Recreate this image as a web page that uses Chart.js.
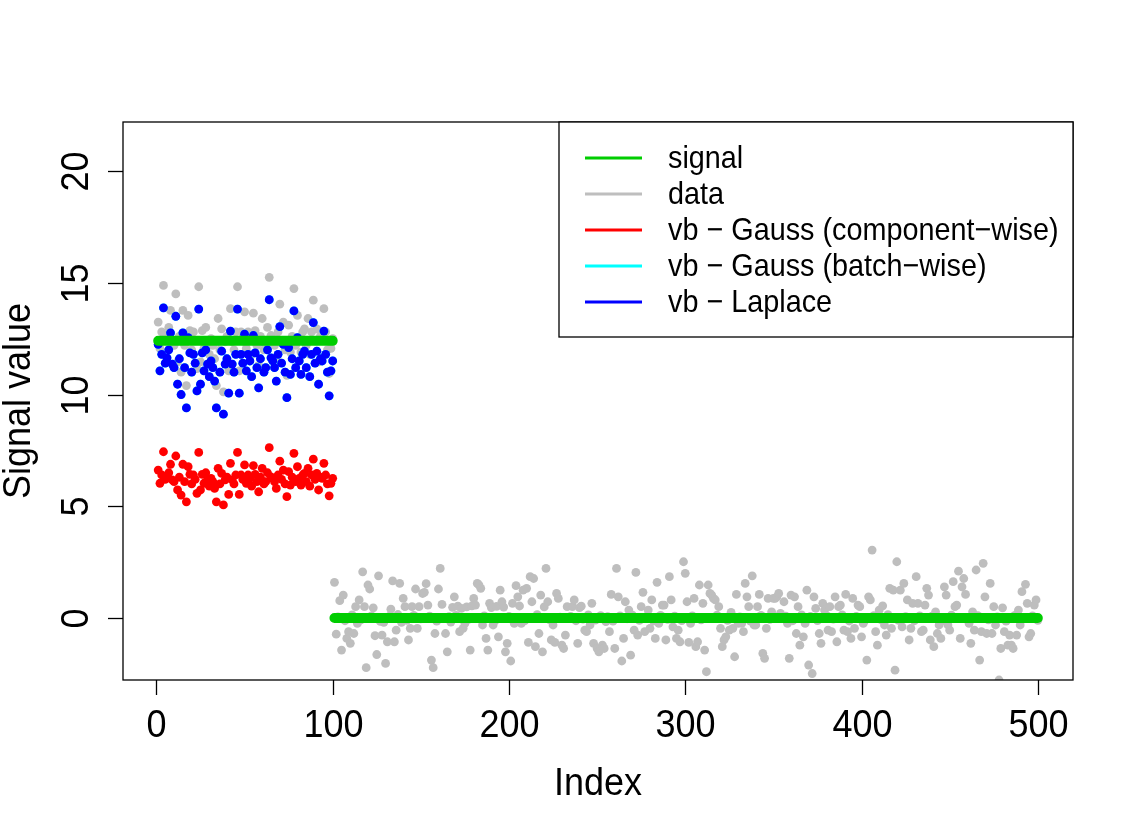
<!DOCTYPE html>
<html>
<head>
<meta charset="utf-8">
<script src="https://cdn.jsdelivr.net/npm/chart.js@4.4.1/dist/chart.umd.min.js"></script>
<style>
  html, body { margin: 0; padding: 0; background: #fff; }
  #wrap { width: 1136px; height: 834px; position: relative; }
</style>
</head>
<body>
<div id="wrap"><canvas id="myChart"></canvas></div>
<script>
// axis ticks
var xTicks = [0, 100, 200, 300, 400, 500];
var yTicks = [0, 5, 10, 15, 20];

// true signal, piecewise constant
var signalStart = [1, 101];
var signalEnd = [100, 500];
var signalLevel = [12.4, 0];

// observed data, index 1..100
var dataFirst = [
  13.24, 12.06, 12.80, 14.88, 12.40, 12.64, 13.00, 13.76, 12.36, 12.20,
  14.50, 11.46, 12.60, 11.00, 13.76, 12.20, 10.40, 13.54, 12.86, 12.00,
  12.80, 12.40, 11.16, 14.82, 11.46, 12.86, 12.06, 13.00, 12.36, 11.80,
  12.50, 12.20, 11.60, 10.40, 13.40, 12.00, 12.94, 10.12, 12.36, 12.60,
  11.06, 13.84, 12.36, 12.00, 12.80, 14.82, 11.06, 12.80, 12.40, 13.70,
  12.06, 12.80, 12.50, 11.80, 13.64, 12.86, 12.20, 11.30, 12.60, 13.40,
  12.00, 12.20, 13.00, 15.24, 12.64, 12.50, 12.20, 11.60, 12.80, 14.04,
  12.40, 13.24, 12.00, 10.86, 13.10, 11.90, 12.60, 14.74, 12.20, 13.54,
  12.50, 11.90, 12.80, 12.94, 12.20, 13.40, 11.80, 12.80, 14.22, 12.40,
  12.94, 11.46, 12.60, 12.50, 13.84, 12.80, 12.00, 10.94, 12.06, 12.50
];

// observed data, index 101..500
var dataRest = [
  1.60, -0.72, 0.05, 0.78, -1.43, 1.03, -0.12, -0.91, -0.61, -1.13,
  0.14, -0.69, 0.51, -0.24, 0.81, -0.08, 2.07, 0.51, -2.22, 1.48,
  1.30, 0.10, 0.46, -0.79, -1.63, 1.89, -0.15, -0.76, -0.19, -2.03,
  -1.06, 0.07, 0.40, 1.66, -1.06, -0.54, 0.16, 1.55, -0.19, 0.88,
  0.51, -0.10, -0.98, -0.46, 0.51, 0.12, 1.30, -0.46, 0.51, -0.04,
  1.10, 1.15, 1.54, 0.58, 0.09, -1.88, -2.22, -0.69, -0.14, 1.30,
  2.22, 0.61, 0.03, -0.69, -1.51,
  0.06, -0.18, 0.48, 0.95, 0.12, 0.53, -0.61, 0.43, -0.46, -0.24,
  0.50, -0.06, -1.43, 0.55, 0.88, 0.58, 1.55, 1.48, 1.33, -0.31,
  0.10, -0.91, -1.43, 0.66, 0.47, -0.31, -0.13, 0.52, -0.84, 1.25,
  0.73, 0.49, -1.51, -1.13, 0.08, -1.92, 0.66, -0.24, 1.45, 0.95,
  0.54, -0.24, 1.25, -0.11, 1.33, -1.09, 1.85, 0.73, 1.77, -1.28,
  0.15, -0.69, 1.03, -1.51, 0.50, 2.22, 0.73, -0.07, -0.98, -0.31,
  -1.09, 1.10, 0.88, 0.04, -1.21, -1.36, -0.76, 0.51,
  -0.02, 0.08, 0.51, 0.81, -0.12, -1.13, 0.47, 0.53, -0.05, -0.54,
  -0.61, 0.14, -0.31, 0.66, -1.13, -0.09, -1.36, -1.51, 0.11, -1.21,
  -1.36, -0.16, 0.06, -0.61, 1.06, -0.14, -1.36, 2.22, 0.95, 0.10,
  -1.92, -0.91, 0.73, -0.03, 0.36, -1.66, 0.13, -0.54, 2.04, -0.76,
  -0.10, 0.51, 1.15, -0.61, 0.07, 0.36, -0.46, 0.81, -0.13, -0.91,
  1.60, -0.24, 0.12, 0.58, 0.58, -0.98, -0.06, 1.85, 0.81, -0.39,
  0.09, -0.91, -0.54, -1.06, -0.11, 2.52, 2.00, 0.73,
  -1.09, -0.24, 0.10, 0.88, -1.28, -1.06, 1.48, -0.08, 0.66, -1.43,
  -2.40, 1.48, 1.10, 1.03, 0.88, 0.81, 0.13, 0.51, -0.46, -1.28,
  -0.98, -0.84, -0.10, -0.54, 0.25, -0.46, -1.73, 1.06, -0.24, 0.05,
  -0.24, -0.61, 1.55, 0.95, 0.51, -0.14, 1.89, -0.31, -0.31, 0.51,
  1.06, 0.12, -1.58, -1.80, -0.46, 0.88, -0.06, 0.28, 0.88, 0.88,
  0.95, 1.10, 0.21, 0.06, 0.73, 0.09, -0.24, -1.80, 1.03, -0.12,
  0.95, -0.69, 0.51, -1.21, 0.14, -0.84, -0.24, 1.25,
  -2.10, 0.07, -2.48, 0.95, 0.43, -0.11, -0.69, -1.13, 0.66, 0.36,
  0.12, -0.54, 0.51, -0.61, -0.05, 0.95, -1.06, 0.51, 0.58, 0.14,
  -0.54, 1.06, -0.61, -0.13, -0.91, 0.88, -0.46, 0.08, 0.58, 0.51,
  -0.84, -0.24, -0.09, -1.88, 0.95, 0.81, 3.04, 0.11, -0.61, -1.21,
  0.36, -0.07, 0.55, -0.31, -0.76, 0.15, 1.33, -0.46, 1.25, -2.33,
  2.52, -0.10, 1.25, -0.39, 1.55, 0.06, 0.81, -0.98, -0.46, 0.66,
  -0.12, 1.85, 0.66, 0.10, -0.61, -0.54, 0.58,
  1.33, 1.03, -0.98, 0.09, -1.28, 0.28, -0.69, -0.31, -0.91, -0.12,
  1.40, 1.03, -0.31, -0.54, 0.13, 1.63, 0.51, 0.58, 2.10, -0.91,
  1.40, 1.77, 1.06, -0.06, -0.24, -1.13, 0.28, -0.54, 2.15, 0.11,
  -1.88, -0.61, 2.45, 0.95, -0.69, -0.08, 1.55, -0.69, 0.51, -0.31,
  0.05, -2.77, -1.36, 0.46, -0.61, -0.14, -1.21, -0.76, -1.21, -1.36,
  0.12, -0.76, 0.36, -0.31, 1.18, -0.04, 1.51, 0.66, -0.84, -0.69,
  0.10, 0.58, 0.81, -0.10
];

// vb - Gauss (component-wise), index 1..100
var vbGaussComp = [
  6.62, 6.03, 6.40, 7.44, 6.20, 6.32, 6.50, 6.88, 6.18, 6.10,
  7.25, 5.73, 6.30, 5.50, 6.88, 6.10, 5.20, 6.77, 6.43, 6.00,
  6.40, 6.20, 5.58, 7.41, 5.73, 6.43, 6.03, 6.50, 6.18, 5.90,
  6.25, 6.10, 5.80, 5.20, 6.70, 6.00, 6.47, 5.06, 6.18, 6.30,
  5.53, 6.92, 6.18, 6.00, 6.40, 7.41, 5.53, 6.40, 6.20, 6.85,
  6.03, 6.40, 6.25, 5.90, 6.82, 6.43, 6.10, 5.65, 6.30, 6.70,
  6.00, 6.10, 6.50, 7.62, 6.32, 6.25, 6.10, 5.80, 6.40, 7.02,
  6.20, 6.62, 6.00, 5.43, 6.55, 5.95, 6.30, 7.37, 6.10, 6.77,
  6.25, 5.95, 6.40, 6.47, 6.10, 6.70, 5.90, 6.40, 7.11, 6.20,
  6.47, 5.73, 6.30, 6.25, 6.92, 6.40, 6.00, 5.47, 6.03, 6.25
];

// vb - Laplace, index 1..100
var vbLaplace = [
  12.24, 11.06, 11.80, 13.88, 11.40, 11.64, 12.00, 12.76, 11.36, 11.20,
  13.50, 10.46, 11.60, 10.00, 12.76, 11.20, 9.40, 12.54, 11.86, 11.00,
  11.80, 11.40, 10.16, 13.82, 10.46, 11.86, 11.06, 12.00, 11.36, 10.80,
  11.50, 11.20, 10.60, 9.40, 12.40, 11.00, 11.94, 9.12, 11.36, 11.60,
  10.06, 12.84, 11.36, 11.00, 11.80, 13.82, 10.06, 11.80, 11.40, 12.70,
  11.06, 11.80, 11.50, 10.80, 12.64, 11.86, 11.20, 10.30, 11.60, 12.40,
  11.00, 11.20, 12.00, 14.24, 11.64, 11.50, 11.20, 10.60, 11.80, 13.04,
  11.40, 12.24, 11.00, 9.86, 12.10, 10.90, 11.60, 13.74, 11.20, 12.54,
  11.50, 10.90, 11.80, 11.94, 11.20, 12.40, 10.80, 11.80, 13.22, 11.40,
  11.94, 10.46, 11.60, 11.50, 12.84, 11.80, 11.00, 9.94, 11.06, 11.50
];

// vb - Gauss (batch-wise): same as Laplace here, hidden under the blue points
var vbGaussBatch = vbLaplace;

var seriesNames = ['signal', 'data', 'vb \u2212 Gauss (component\u2212wise)',
  'vb \u2212 Gauss (batch\u2212wise)', 'vb \u2212 Laplace'];

var FONT = '"Liberation Sans", Arial, Helvetica, sans-serif';
var STRETCH = 1.1; // R text renders a bit taller than Arial

function toPoints(values, start) {
  return values.map(function (v, i) { return { x: start + i, y: v }; });
}

var signalPts = [];
for (var k = 0; k < signalLevel.length; k++) {
  if (k > 0) signalPts.push({ x: signalStart[k] - 0.5, y: null });
  signalPts.push({ x: signalStart[k], y: signalLevel[k] });
  signalPts.push({ x: signalEnd[k], y: signalLevel[k] });
}
var grayPts = toPoints(dataFirst, 1).concat(toPoints(dataRest, 101));

function pointSet(label, values, color, order) {
  return {
    label: label,
    data: toPoints(values, 1),
    backgroundColor: color,
    borderColor: color,
    pointRadius: 4.4,
    pointBorderWidth: 0,
    order: order
  };
}

// text drawn at (x, y), optionally rotated, stretched vertically
function drawText(ctx, str, x, y, angle) {
  ctx.save();
  ctx.translate(x, y);
  if (angle) ctx.rotate(angle);
  ctx.scale(1, STRETCH);
  ctx.fillText(str, 0, 0);
  ctx.restore();
}

// R style box, ticks, labels and legend
var rPlot = {
  id: 'rPlot',
  afterDatasetsDraw: function (chart) {
    var ctx = chart.ctx, a = chart.chartArea;
    var xs = chart.scales.x, ys = chart.scales.y;
    ctx.save();
    ctx.strokeStyle = '#000';
    ctx.fillStyle = '#000';
    ctx.lineWidth = 1.3;
    ctx.strokeRect(a.left, a.top, a.right - a.left, a.bottom - a.top);

    ctx.font = '36px ' + FONT;
    ctx.textAlign = 'center';
    ctx.textBaseline = 'alphabetic';
    xTicks.forEach(function (v) {
      var px = Math.round(xs.getPixelForValue(v)) + 0.5;
      ctx.beginPath();
      ctx.moveTo(px, a.bottom);
      ctx.lineTo(px, a.bottom + 15);
      ctx.stroke();
      drawText(ctx, String(v), px, a.bottom + 57, 0);
    });
    yTicks.forEach(function (v) {
      var py = Math.round(ys.getPixelForValue(v)) + 0.5;
      ctx.beginPath();
      ctx.moveTo(a.left - 15, py);
      ctx.lineTo(a.left, py);
      ctx.stroke();
      drawText(ctx, String(v), a.left - 35, py, -Math.PI / 2);
    });

    // axis titles
    drawText(ctx, 'Index', (a.left + a.right) / 2, a.bottom + 115, 0);
    drawText(ctx, 'Signal value', 30, (a.top + a.bottom) / 2, -Math.PI / 2);

    // legend
    var lw = 514, lh = 215;
    var lx = a.right - lw, ly = a.top;
    ctx.fillStyle = '#fff';
    ctx.fillRect(lx, ly, lw, lh);
    ctx.strokeRect(lx, ly, lw, lh);
    ctx.font = '28.8px ' + FONT;
    ctx.textAlign = 'left';
    ctx.textBaseline = 'middle';
    chart.data.datasets.forEach(function (ds, i) {
      var ry = ly + 36 + 36 * i;
      ctx.strokeStyle = ds.borderColor;
      ctx.lineWidth = 3;
      ctx.beginPath();
      ctx.moveTo(lx + 26, ry);
      ctx.lineTo(lx + 83, ry);
      ctx.stroke();
      ctx.fillStyle = '#000';
      drawText(ctx, ds.label, lx + 109, ry + 1, 0);
    });
    ctx.restore();
  }
};

var ctx = document.getElementById('myChart');
new Chart(ctx, {
  type: 'scatter',
  data: {
    datasets: [
      {
        label: seriesNames[0],
        data: signalPts,
        showLine: true,
        spanGaps: false,
        borderColor: '#00CD00',
        backgroundColor: '#00CD00',
        borderWidth: 10,
        borderCapStyle: 'round',
        pointRadius: 0,
        order: 0
      },
      {
        label: seriesNames[1],
        data: grayPts,
        backgroundColor: '#BEBEBE',
        borderColor: '#BEBEBE',
        pointRadius: 4.4,
        pointBorderWidth: 0,
        order: 4
      },
      pointSet(seriesNames[2], vbGaussComp, '#FF0000', 3),
      pointSet(seriesNames[3], vbGaussBatch, '#00FFFF', 2),
      pointSet(seriesNames[4], vbLaplace, '#0000FF', 1)
    ]
  },
  options: {
    responsive: true,
    maintainAspectRatio: false,
    animation: false,
    devicePixelRatio: 1,
    layout: { padding: { left: 123, top: 122, right: 63, bottom: 154 } },
    scales: {
      x: { type: 'linear', min: -18.96, max: 519.96, display: false },
      y: { type: 'linear', min: -2.77, max: 22.19, display: false }
    },
    plugins: {
      legend: { display: false },
      tooltip: { enabled: false }
    }
  },
  plugins: [rPlot]
});
</script>
</body>
</html>
